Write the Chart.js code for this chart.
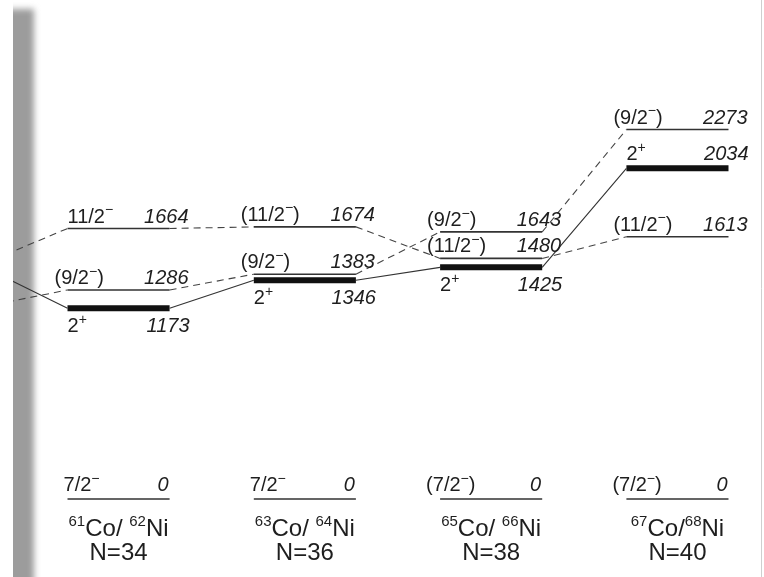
<!DOCTYPE html>
<html>
<head>
<meta charset="utf-8">
<script src="https://cdn.jsdelivr.net/npm/chart.js@4.4.1/dist/chart.umd.min.js"></script>
<style>
  html, body { margin: 0; padding: 0; background: #fff; }
  #wrap { width: 764px; height: 577px; position: relative; }
</style>
</head>
<body>
<div id="wrap"><canvas id="scheme" width="764" height="577"></canvas></div>
<script>
// Level scheme of odd-A Co isotopes and their even Ni cores (energies in keV).
// '^{..}' marks raised (superscript) text.
const nuclei = ['^{61}Co/ ^{62}Ni', '^{63}Co/ ^{64}Ni', '^{65}Co/ ^{66}Ni', '^{67}Co/^{68}Ni'];
const neutronNumbers = [34, 36, 38, 40];

const groundEnergy = [0, 0, 0, 0];
const groundSpin = ['7/2^{−}', '7/2^{−}', '(7/2^{−})', '(7/2^{−})'];

const twoPlusEnergy = [1173, 1346, 1425, 2034];
const twoPlusSpin = ['2^{+}', '2^{+}', '2^{+}', '2^{+}'];

const nineHalfEnergy = [1286, 1383, 1643, 2273];
const nineHalfSpin = ['(9/2^{−})', '(9/2^{−})', '(9/2^{−})', '(9/2^{−})'];

const elevenHalfEnergy = [1664, 1674, 1480, 1613];
const elevenHalfSpin = ['11/2^{−}', '(11/2^{−})', '(11/2^{−})', '(11/2^{−})'];

// N=32 neighbour levels; only their connecting lines reach into the page
const neighbourTwoPlus = 1430;
const neighbourNineHalf = 1182;
const neighbourElevenHalf = 1446;

const HALF = 0.274;          // half width of a level line, in column units
const FONT = '"Liberation Sans", Arial, Helvetica, sans-serif';
const INK = '#1e1e1e';

function levelPoints(energies) {
  const pts = [];
  energies.forEach((e, i) => {
    pts.push({ x: i - HALF, y: e }, { x: i + HALF, y: e });
    pts.push({ x: i + 0.5, y: null });
  });
  return pts;
}

function linkPoints(energies, neighbour) {
  const all = [neighbour].concat(energies);
  const pts = [];
  for (let k = 0; k < all.length - 1; k++) {
    const i = k - 1;
    pts.push({ x: i + HALF, y: all[k] }, { x: i + 1 - HALF, y: all[k + 1] });
    pts.push({ x: i + 0.5, y: null });
  }
  return pts;
}

const EDGE_CLIP = { left: -13, right: 0, top: 0, bottom: 0 };

function lineSet(data, width, color, dash) {
  return {
    data, borderWidth: width, borderColor: color, borderDash: dash || [],
    pointRadius: 0, pointHoverRadius: 0, fill: false, tension: 0,
    spanGaps: false, clip: EDGE_CLIP, borderCapStyle: 'butt'
  };
}

const datasets = [
  lineSet(linkPoints(twoPlusEnergy, neighbourTwoPlus), 1.1, '#333'),
  lineSet(linkPoints(nineHalfEnergy, neighbourNineHalf), 1.1, '#444', [7, 5]),
  lineSet(linkPoints(elevenHalfEnergy, neighbourElevenHalf), 1.1, '#444', [7, 5]),
  lineSet(levelPoints(groundEnergy), 1.6, '#333'),
  lineSet(levelPoints(nineHalfEnergy), 1.6, '#333'),
  lineSet(levelPoints(elevenHalfEnergy), 1.6, '#333'),
  lineSet(levelPoints(twoPlusEnergy), 6, '#111')
];

function parseRich(str) {
  const parts = [];
  const re = /\^\{([^}]*)\}/g;
  let last = 0, m;
  while ((m = re.exec(str))) {
    if (m.index > last) parts.push({ t: str.slice(last, m.index), sup: false });
    parts.push({ t: m[1], sup: true });
    last = re.lastIndex;
  }
  if (last < str.length) parts.push({ t: str.slice(last), sup: false });
  return parts;
}

function drawRich(ctx, str, x, y, size, align, italic, supScale) {
  const parts = parseRich(str);
  const k = supScale || 0.68;
  const fontOf = sup => (italic ? 'italic ' : '') + (sup ? Math.round(size * k) : size) + 'px ' + FONT;
  let w = 0;
  parts.forEach(p => { ctx.font = fontOf(p.sup); p.w = ctx.measureText(p.t).width; w += p.w; });
  let cx = align === 'left' ? x : align === 'right' ? x - w : x - w / 2;
  ctx.textAlign = 'left';
  ctx.textBaseline = 'alphabetic';
  parts.forEach(p => {
    ctx.font = fontOf(p.sup);
    ctx.fillText(p.t, cx, p.sup ? y - size * 0.42 : y);
    cx += p.w;
  });
}

const pageEdge = {
  id: 'pageEdge',
  beforeDraw(chart) {
    const ctx = chart.ctx;
    ctx.save();
    ctx.fillStyle = '#fff';
    ctx.fillRect(0, 0, chart.width, chart.height);
    ctx.beginPath();
    ctx.rect(13, 0, chart.width, chart.height);
    ctx.clip();
    ctx.filter = 'blur(3px)';
    ctx.fillStyle = '#9c9c9c';
    ctx.fillRect(-20, 9, 54, chart.height + 40);
    ctx.restore();
  },
  afterDraw(chart) {
    const ctx = chart.ctx;
    ctx.save();
    ctx.strokeStyle = '#cfcfcf';
    ctx.lineWidth = 1;
    ctx.beginPath();
    ctx.moveTo(761.5, 0);
    ctx.lineTo(761.5, chart.height);
    ctx.stroke();
    ctx.restore();
  }
};

const levelLabels = {
  id: 'levelLabels',
  afterDatasetsDraw(chart) {
    const ctx = chart.ctx;
    const xs = chart.scales.x, ys = chart.scales.y;
    const S = 20;
    ctx.save();
    ctx.fillStyle = INK;
    const spinX = (i, s) => xs.getPixelForValue(i - HALF) - (s.startsWith('(') ? 13 : 0);
    const enX = i => xs.getPixelForValue(i + HALF) + 19;

    for (let i = 0; i < nuclei.length; i++) {
      // thin levels, labels above the line
      [[nineHalfSpin, nineHalfEnergy], [elevenHalfSpin, elevenHalfEnergy]].forEach(([spins, ens]) => {
        const y = ys.getPixelForValue(ens[i]) - 6;
        drawRich(ctx, spins[i], spinX(i, spins[i]), y, S, 'left', false);
        drawRich(ctx, String(ens[i]), enX(i), y, S, 'right', true);
      });
      // 2+ core state: labels below the bar, above it when the bar sits on top
      const yb = ys.getPixelForValue(twoPlusEnergy[i]);
      const below = twoPlusEnergy[i] < nineHalfEnergy[i] && twoPlusEnergy[i] < elevenHalfEnergy[i];
      const y2 = below ? yb + 24 : yb - 8;
      drawRich(ctx, twoPlusSpin[i], xs.getPixelForValue(i - HALF), y2, S, 'left', false);
      drawRich(ctx, String(twoPlusEnergy[i]), enX(i) + 1, y2, S, 'right', true);
      // ground state
      const yg = ys.getPixelForValue(groundEnergy[i]) - 8;
      drawRich(ctx, groundSpin[i], xs.getPixelForValue(i - HALF) - (groundSpin[i].startsWith('(') ? 14 : 4), yg, S, 'left', false);
      drawRich(ctx, String(groundEnergy[i]), xs.getPixelForValue(i + HALF) - 1, yg, S, 'right', true);
      // nucleus pair and neutron number
      const xc = xs.getPixelForValue(i);
      drawRich(ctx, nuclei[i], xc, ys.getPixelForValue(groundEnergy[i]) + 37, 24, 'center', false, 0.62);
      drawRich(ctx, 'N=' + neutronNumbers[i], xc, ys.getPixelForValue(groundEnergy[i]) + 61, 24, 'center', false);
    }
    ctx.restore();
  }
};

new Chart(document.getElementById('scheme'), {
  type: 'line',
  data: { datasets },
  options: {
    responsive: false,
    animation: false,
    events: [],
    layout: { padding: 0 },
    plugins: { legend: { display: false }, tooltip: { enabled: false } },
    scales: {
      x: { type: 'linear', min: -0.63634, max: 3.46456, display: false },
      y: { type: 'linear', min: -479.8, max: 3069.7, display: false }
    }
  },
  plugins: [pageEdge, levelLabels]
});
</script>
</body>
</html>
